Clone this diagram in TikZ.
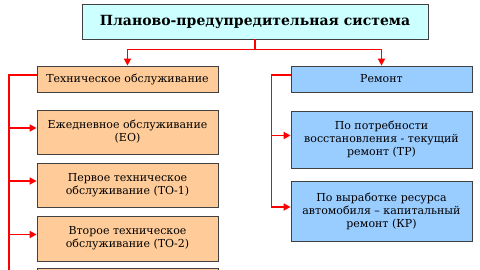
\documentclass[tikz,border=0pt]{standalone}
\usepackage{fontspec}
\setmainfont{DejaVu Serif}
\usetikzlibrary{arrows.meta}

\definecolor{sysfill}{HTML}{CCFFFF}
\definecolor{tofill}{HTML}{FFCC99}
\definecolor{remfill}{HTML}{99CCFF}
\definecolor{boxline}{HTML}{404040}

\begin{document}
\begin{tikzpicture}[x=1pt, y=-1pt, >={Triangle[length=7pt,width=7pt]},
  every node/.style={font=\fontsize{11}{13}\selectfont},
  box/.style={draw=boxline, line width=0.8pt, align=center, minimum width=181pt, inner sep=1pt},
  tobox/.style={box, fill=tofill},
  rembox/.style={box, fill=remfill},
  link/.style={red, line width=1.6pt}]
\useasboundingbox (0,0) rectangle (480,270);
\clip (0,0) rectangle (480,270);

% top
\node[box, fill=sysfill, minimum width=346pt, minimum height=35pt,
  font=\fontsize{14}{16}\selectfont\bfseries] (sys) at (255,21.5) {Планово-предупредительная система};

% two branches
\node[tobox, minimum height=26pt] (to) at (127.5,79) {Техническое обслуживание};
\node[rembox, minimum height=26pt] (rem) at (381.5,79) {Ремонт};

% maintenance
\node[tobox, minimum height=44pt] (eo) at (127.5,132) {Ежедневное обслуживание\\(ЕО)};
\node[tobox, minimum height=44pt] (to1) at (127.5,185) {Первое техническое\\обслуживание (ТО-1)};
\node[tobox, minimum height=45pt] (to2) at (127.5,238.5) {Второе техническое\\обслуживание (ТО-2)};
\node[tobox, minimum height=44pt] (to3) at (127.5,290) {};

% repair
\node[rembox, minimum height=57pt] (tr) at (381.5,139.5) {По потребности\\восстановления - текущий\\ремонт (ТР)};
\node[rembox, minimum height=60pt] (kr) at (381.5,211) {По выработке ресурса\\автомобиля -- капитальный\\ремонт (КР)};

\coordinate (tbot) at (9,275);

\draw[link,->] (sys.south) -- ++(0,10) -| (to.north);
\draw[link,->] (sys.south) -- ++(0,10) -| (rem.north);

\draw[link] ([yshift=4pt]to.west) -| (tbot);
\foreach \n in {eo,to1,to2,to3}
  \draw[link,<-] ([yshift=4pt]\n.west) -- ++(-28,0);

\draw[link,->] ([yshift=4pt]rem.west) -- ++(-19,0) |- ([yshift=4pt]kr.west);
\draw[link,<-] ([yshift=4pt]tr.west) -- ++(-19,0);
\end{tikzpicture}
\end{document}
